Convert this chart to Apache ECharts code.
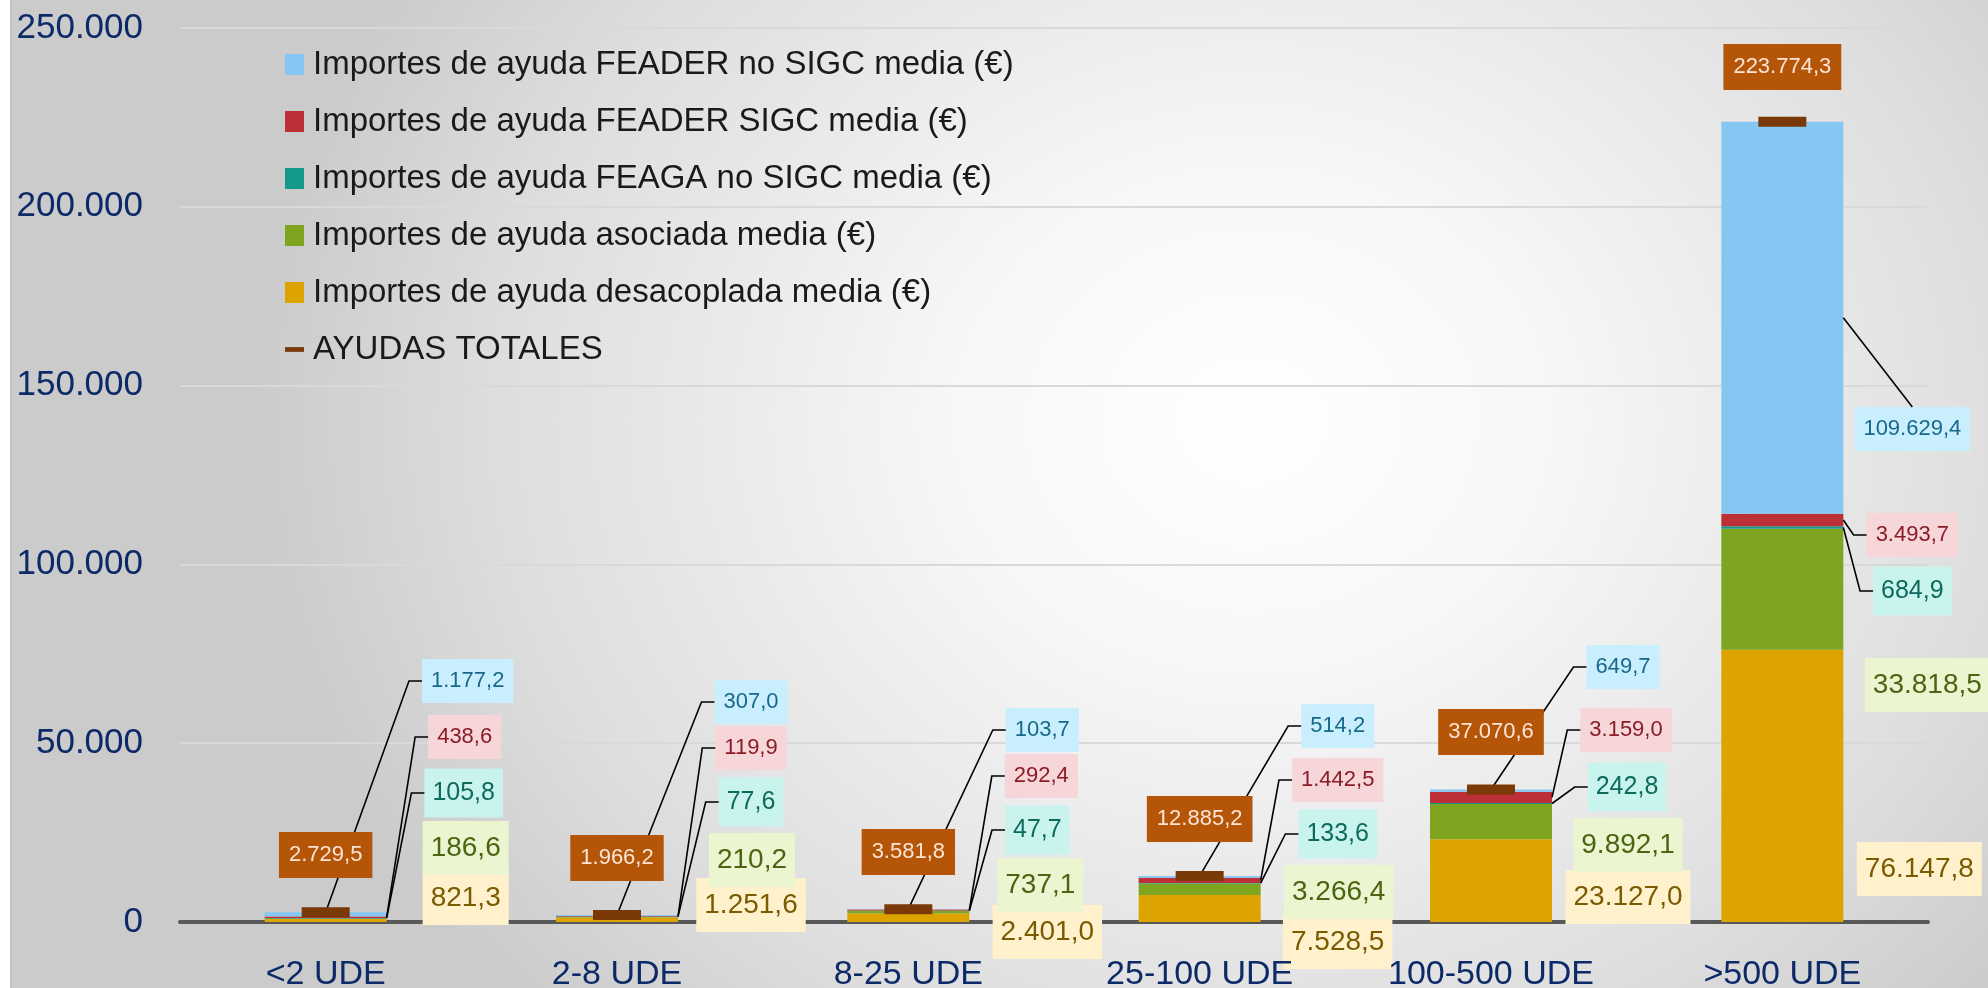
<!DOCTYPE html>
<html>
<head>
<meta charset="utf-8">
<title>Ayudas medias por dimensión económica</title>
<script src="https://cdn.jsdelivr.net/npm/echarts@6/dist/echarts.min.js"></script>
<style>
  html, body { margin: 0; padding: 0; background: #ffffff; }
  #bg {
    position: absolute; left: 10px; top: 0; width: 1978px; height: 988px;
    box-sizing: border-box; border-left: 2px solid #c2c2c2;
    background: radial-gradient(ellipse 1000px 850px at 1240px 420px, #ffffff 0%, #f7f7f7 30%, #dedede 75%, #cbcbcb 100%);
  }
  #chart { position: absolute; left: 0; top: 0; width: 1988px; height: 988px; }
</style>
</head>
<body>
<div id="bg"></div>
<div id="chart"></div>
<script>
// datos (media por explotación, €)
const categories = ['<2 UDE', '2-8 UDE', '8-25 UDE', '25-100 UDE', '100-500 UDE', '>500 UDE'];
const desacoplada = [821.3, 1251.6, 2401.0, 7528.5, 23127.0, 76147.8];
const asociada = [186.6, 210.2, 737.1, 3266.4, 9892.1, 33818.5];
const feagaNoSigc = [105.8, 77.6, 47.7, 133.6, 242.8, 684.9];
const feaderSigc = [438.6, 119.9, 292.4, 1442.5, 3159.0, 3493.7];
const feaderNoSigc = [1177.2, 307.0, 103.7, 514.2, 649.7, 109629.4];
const ayudasTotales = [2729.5, 1966.2, 3581.8, 12885.2, 37070.6, 223774.3];

const yMin = 0;
const yMax = 250000;
const yStep = 50000;

// colocación manual de las etiquetas, como en el original:
// altura del centro sobre el eje X (px) y desplazamiento desde el borde derecho de la barra (px)
const labelRise = {
  gold:  [24, 17, -10, -20, 25, 53],
  green: [74, 62, 37, 30, 77, 237],
  teal:  [129, 120, 92, 88, 135, 331],
  red:   [185, 174, 146, 142, 192, 387],
  blue:  [241, 220, 192, 196, 255, 493],
  total: [67, 64, 70, 103, 190, 855]
};
const labelDx = {
  gold:  [79, 73, 78, 77, 76, 76],
  green: [79, 74, 71, 78, 76, 84],
  teal:  [77, 73, 68, 77, 75, 69],
  red:   [78, 73, 72, 77, 74, 69],
  blue:  [81, 73, 73, 77, 71, 69]
};

const FONT = '"Liberation Sans", Arial, sans-serif';
const NAVY = '#0D2A68';
const H = 988;
const GRID_BOTTOM = 66;
const BASE_Y = H - GRID_BOTTOM;
const BAR_W = 122;
const HOOK = 13;

// orden de apilado: de abajo a arriba
const stackDefs = [
  { key: 'gold', name: 'Importes de ayuda desacoplada media (€)', values: desacoplada,
    color: '#DDA400', text: '#7A5B00', bg: '#FFF1CC', size: 28, pad: [13, 8] },
  { key: 'green', name: 'Importes de ayuda asociada media (€)', values: asociada,
    color: '#7FA41F', text: '#4C6512', bg: '#EBF5D0', size: 28, pad: [13, 8] },
  { key: 'teal', name: 'Importes de ayuda FEAGA no SIGC media (€)', values: feagaNoSigc,
    color: '#14998A', text: '#0E6A5D', bg: '#C9F4EE', size: 25, pad: [12, 8] },
  { key: 'red', name: 'Importes de ayuda FEADER SIGC media (€)', values: feaderSigc,
    color: '#BD2F36', text: '#8A1C25', bg: '#F6D6D9', size: 22, pad: [11, 9] },
  { key: 'blue', name: 'Importes de ayuda FEADER no SIGC media (€)', values: feaderNoSigc,
    color: '#85C6F3', text: '#17688A', bg: '#C9EEFD', size: 22, pad: [11, 9] }
];
const defByKey = {};
stackDefs.forEach(d => { defByKey[d.key] = d; });

function fmt(v, dec) {
  const parts = v.toFixed(dec).split('.');
  const ent = parts[0].replace(/\B(?=(\d{3})+(?!\d))/g, '.');
  return parts[1] ? ent + ',' + parts[1] : ent;
}

const ctx = document.createElement('canvas').getContext('2d');
function boxWidth(text, size, pad) {
  ctx.font = size + 'px ' + FONT;
  return ctx.measureText(text).width + pad[1] * 2;
}

const chart = echarts.init(document.getElementById('chart'));

const barSeries = stackDefs.map(d => ({
  type: 'bar',
  name: d.name,
  stack: 'ayudas',
  barWidth: BAR_W,
  z: 2,
  data: d.values,
  itemStyle: { color: d.color },
  label: {
    show: true,
    formatter: p => fmt(p.value, 1),
    fontFamily: FONT,
    fontSize: d.size,
    lineHeight: d.size,
    color: d.text,
    backgroundColor: d.bg,
    padding: d.pad
  },
  labelLayout: p => ({
    x: p.rect.x + p.rect.width + labelDx[d.key][p.dataIndex],
    y: BASE_Y - labelRise[d.key][p.dataIndex],
    align: 'center',
    verticalAlign: 'middle'
  })
}));

// líneas guía de las etiquetas pequeñas
const guideSeries = {
  type: 'custom',
  name: 'guias',
  silent: true,
  clip: false,
  z: 3,
  data: categories.map((c, i) => [i, ayudasTotales[i]]),
  encode: { x: 0, y: 1 },
  renderItem: function (params, api) {
    const i = params.dataIndex;
    const cx = api.coord([i, 0])[0];
    const right = cx + BAR_W / 2;
    const span = {};
    let cum = 0;
    stackDefs.forEach(d => {
      span[d.key] = [cum, cum + d.values[i]];
      cum += d.values[i];
    });
    const children = [];
    ['teal', 'red', 'blue'].forEach(key => {
      const d = defByKey[key];
      const yBot = api.coord([i, span[key][0]])[1];
      const yTop = api.coord([i, span[key][1]])[1];
      const ly = BASE_Y - labelRise[key][i];
      const lcx = right + labelDx[key][i];
      const w = boxWidth(fmt(d.values[i], 1), d.size, d.pad);
      const h = d.size + d.pad[0] * 2;
      const lx = lcx - w / 2;
      const start = (key === 'blue' && yBot - yTop < 40) ? [cx, yTop] : [right, (yTop + yBot) / 2];
      // sin sitio para el gancho: directo al borde superior de la etiqueta
      const pts = (lx - start[0] < 16)
        ? [start, [lcx, ly - h / 2]]
        : [start, [lx - HOOK, ly], [lx, ly]];
      children.push({
        type: 'polyline',
        shape: { points: pts },
        style: { stroke: '#000000', lineWidth: 1.6, fill: 'none' }
      });
    });
    return { type: 'group', children: children };
  }
};

const totalSeries = {
  type: 'line',
  name: 'AYUDAS TOTALES',
  data: ayudasTotales,
  z: 5,
  symbol: 'rect',
  symbolSize: [48, 10],
  itemStyle: { color: '#7A3906' },
  lineStyle: { width: 0, opacity: 0 },
  label: {
    show: true,
    formatter: p => fmt(p.value, 1),
    fontFamily: FONT,
    fontSize: 22,
    lineHeight: 22,
    color: '#FCE4D6',
    backgroundColor: '#B45507',
    padding: [12, 10]
  },
  labelLayout: p => ({
    x: p.rect.x + p.rect.width / 2,
    y: BASE_Y - labelRise.total[p.dataIndex],
    align: 'center',
    verticalAlign: 'middle'
  })
};

const legendOrder = ['blue', 'red', 'teal', 'green', 'gold'].map(k => ({ name: defByKey[k].name, icon: 'rect' }));
legendOrder.push({ name: 'AYUDAS TOTALES', icon: 'path://M0,0h24v6h-24z' });

chart.setOption({
  animation: false,
  textStyle: { fontFamily: FONT },
  grid: { left: 180, right: 60, top: 28, bottom: GRID_BOTTOM, outerBoundsMode: 'none' },
  legend: {
    orient: 'vertical',
    left: 280,
    top: 43,
    itemWidth: 19,
    itemHeight: 21,
    itemGap: 24,
    selectedMode: false,
    data: legendOrder,
    textStyle: { fontFamily: FONT, fontSize: 33, color: '#1A1A1A', padding: [0, 0, 0, 4] }
  },
  xAxis: [
    {
      // línea del eje
      type: 'category',
      data: categories,
      axisTick: { show: false },
      axisLine: { lineStyle: { color: '#585858', width: 4 } },
      axisLabel: { show: false }
    },
    {
      // rótulos de categoría por encima de las etiquetas
      type: 'category',
      position: 'bottom',
      data: categories,
      z: 10,
      axisTick: { show: false },
      axisLine: { show: false },
      splitLine: { show: false },
      axisLabel: { color: NAVY, fontSize: 34, fontFamily: FONT, margin: 36 }
    }
  ],
  yAxis: {
    type: 'value',
    min: yMin,
    max: yMax,
    interval: yStep,
    axisLine: { show: false },
    axisTick: { show: false },
    axisLabel: { color: NAVY, fontSize: 35, fontFamily: FONT, margin: 37, formatter: v => fmt(v, 0) },
    splitLine: { lineStyle: { color: '#d9d9d9', width: 2 } }
  },
  series: barSeries.concat([guideSeries, totalSeries])
});
</script>
</body>
</html>
